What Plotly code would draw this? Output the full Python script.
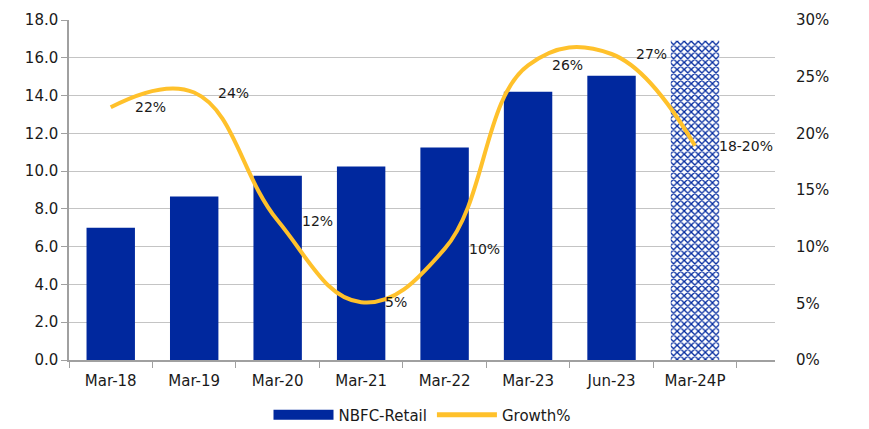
import plotly.graph_objects as go

categories = ["Mar-18", "Mar-19", "Mar-20", "Mar-21", "Mar-22", "Mar-23", "Jun-23", "Mar-24P"]
nbfc_retail = [7.0, 8.65, 9.75, 10.25, 11.25, 14.2, 15.05, 16.9]
growth = [22.3, 23.6, 12.3, 5.1, 9.8, 26.0, 27.0, 18.9]
growth_labels = ["22%", "24%", "12%", "5%", "10%", "26%", "27%", "18-20%"]
left_ticks = [0, 2, 4, 6, 8, 10, 12, 14, 16, 18]
right_ticks = [0, 5, 10, 15, 20, 25, 30]

BLUE = "#00289E"
GOLD = "#FFC12B"
GRID = "#C4C4C4"
AXIS = "#A0A0A0"
FONT = "DejaVu Sans"

projected = [c.endswith("P") for c in categories]
actual_vals = [None if p else v for v, p in zip(nbfc_retail, projected)]
proj_vals = [v if p else None for v, p in zip(nbfc_retail, projected)]

fig = go.Figure()
fig.add_trace(go.Bar(
    x=categories, y=actual_vals, name="NBFC-Retail", showlegend=False,
    marker=dict(color=BLUE, line=dict(width=0)),
))
fig.add_trace(go.Bar(
    x=categories, y=proj_vals, name="NBFC-Retail (P)", showlegend=False,
    marker=dict(
        color="white", line=dict(width=0),
        pattern=dict(shape="x", fgcolor=BLUE, bgcolor="white",
                     size=5, solidity=0.45, fillmode="replace"),
    ),
))
fig.add_trace(go.Scatter(
    x=categories, y=growth, name="Growth%", mode="lines", showlegend=False,
    line=dict(color=GOLD, width=4, shape="spline", smoothing=1.2),
    yaxis="y2",
))
# legend entries
fig.add_trace(go.Scatter(
    x=[None], y=[None], name="NBFC-Retail", mode="lines",
    line=dict(color=BLUE, width=12), showlegend=True,
))
fig.add_trace(go.Scatter(
    x=[None], y=[None], name="Growth%", mode="lines",
    line=dict(color=GOLD, width=5), showlegend=True,
))

for c, g, t in zip(categories, growth, growth_labels):
    fig.add_annotation(
        x=c, y=g, yref="y2", text=t, showarrow=False,
        xanchor="left", yanchor="middle", xshift=22,
        font=dict(family=FONT, size=14, color="#1a1a1a"),
    )

fig.update_layout(
    width=869, height=429,
    margin=dict(l=69, r=94, t=20, b=69, autoexpand=False),
    paper_bgcolor="white", plot_bgcolor="white",
    font=dict(family=FONT, size=15, color="#1a1a1a"),
    barmode="overlay",
    bargap=0.42,
    showlegend=True,
    legend=dict(
        orientation="h", x=0.5, xanchor="center", y=-0.162, yanchor="middle",
        font=dict(family=FONT, size=15, color="#1a1a1a"),
        itemwidth=60, traceorder="normal",
    ),
    xaxis=dict(
        type="category", showgrid=False, showline=True, linecolor=AXIS, linewidth=1.5,
        ticks="outside", tickson="boundaries", ticklen=6, tickcolor=AXIS,
        tickfont=dict(family=FONT, size=15), automargin=False, ticklabelstandoff=6,
    ),
    yaxis=dict(
        range=[0, 18], tickvals=left_ticks, ticktext=[f"{v:.1f}" for v in left_ticks],
        showgrid=True, gridcolor=GRID, gridwidth=1.3,
        showline=True, linecolor=AXIS, linewidth=1.5,
        ticks="outside", ticklen=6, tickcolor=AXIS,
        tickfont=dict(family=FONT, size=15), zeroline=False, automargin=False,
    ),
    yaxis2=dict(
        range=[0, 30], tickvals=right_ticks, ticktext=[f"{v}%" for v in right_ticks],
        overlaying="y", side="right", showgrid=False, showline=False, zeroline=False,
        ticklabelstandoff=20, automargin=False,
        tickfont=dict(family=FONT, size=15),
    ),
)

fig.write_html(
    "out.html",
    config={"displayModeBar": False},
    post_script="document.body.style.margin='0';document.body.style.overflow='hidden';",
)
